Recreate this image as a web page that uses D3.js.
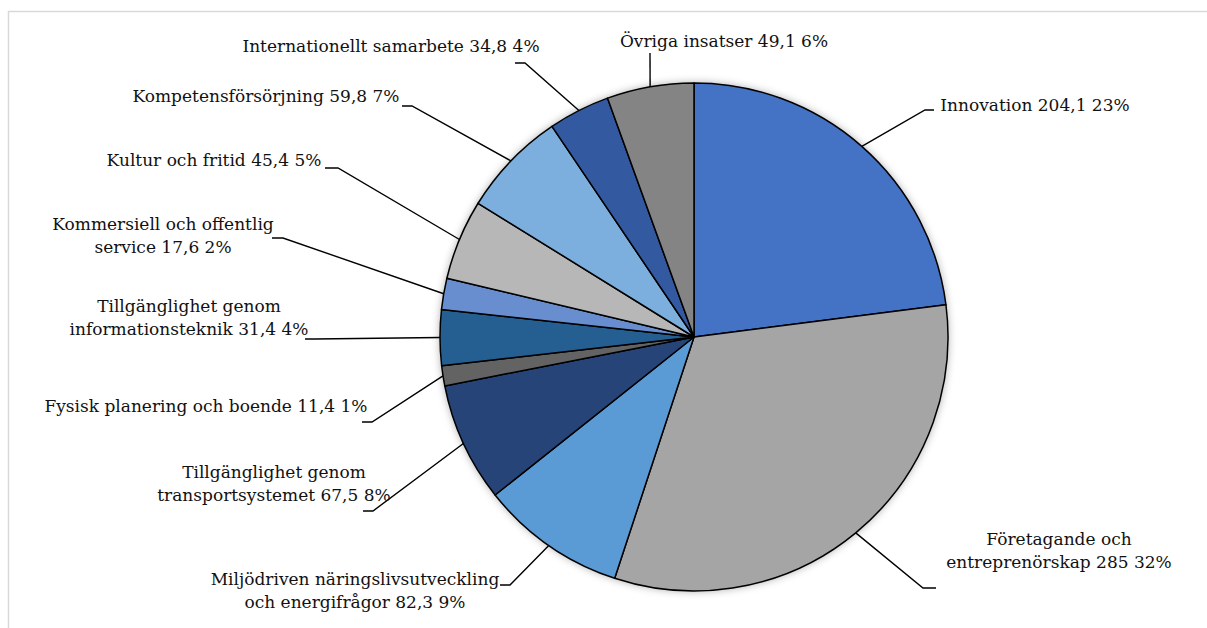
<!DOCTYPE html>
<html>
<head>
<meta charset="utf-8">
<script src="https://cdn.jsdelivr.net/npm/d3@7"></script>
<style>
  html, body { margin: 0; padding: 0; background: #ffffff; }
  svg { display: block; }
  text { font-family: "DejaVu Serif", "Liberation Serif", serif; fill: #111; }
</style>
</head>
<body>
<svg id="chart" width="1207" height="628"></svg>
<script>
// ---- data ----
const categories = [
  "Innovation",
  "Företagande och entreprenörskap",
  "Miljödriven näringslivsutveckling och energifrågor",
  "Tillgänglighet genom transportsystemet",
  "Fysisk planering och boende",
  "Tillgänglighet genom informationsteknik",
  "Kommersiell och offentlig service",
  "Kultur och fritid",
  "Kompetensförsörjning",
  "Internationellt samarbete",
  "Övriga insatser"
];
const values = [204.1, 285, 82.3, 67.5, 11.4, 31.4, 17.6, 45.4, 59.8, 34.8, 49.1];
const colors = ["#4472C4", "#A5A5A5", "#5B9BD5", "#264478", "#636363", "#255E91",
                "#698ED0", "#B7B7B7", "#7CAFDD", "#335AA1", "#848484"];
// number of words in the first label line (0 = single line)
const firstLineWords = [0, 2, 2, 2, 0, 2, 3, 0, 0, 0, 0];

// ---- label layout (Excel manual label placement) ----
const labelLayout = [
  { cx: 1035, y: 111, elbow: [925, 110], end: [934, 110] },
  { cx: 1059, y: 545, elbow: [923, 588], end: [936, 588] },
  { cx: 355,  y: 585, elbow: [510, 585], end: [500, 585] },
  { cx: 274,  y: 478, elbow: [373, 511], end: [363, 511] },
  { cx: 206,  y: 412, elbow: [372, 422], end: [362, 422] },
  { cx: 189,  y: 312, elbow: [315, 339], end: [305, 339] },
  { cx: 163,  y: 230, elbow: [283, 238], end: [272, 238] },
  { cx: 214,  y: 166, elbow: [338, 168], end: [325, 168] },
  { cx: 266,  y: 102, elbow: [412, 106], end: [402, 106] },
  { cx: 391,  y: 52,  elbow: [525, 63],  end: [515, 63] },
  { cx: 724,  y: 47,  elbow: [650, 53],  end: [650, 53] }
];

const svg = d3.select("#chart");
const W = 1207, H = 628;
const cx = 694, cy = 337, R = 254;
const fontSize = 17, lineH = 22.5;

// border
svg.append("rect")
  .attr("x", 8.5).attr("y", 11.5)
  .attr("width", W).attr("height", H)
  .attr("fill", "none").attr("stroke", "#d9d9d9").attr("stroke-width", 1.5);

const defs = svg.append("defs");
const f = defs.append("filter").attr("id", "shadow")
  .attr("x", "-10%").attr("y", "-10%").attr("width", "120%").attr("height", "120%");
f.append("feDropShadow").attr("dx", 0).attr("dy", 0)
  .attr("stdDeviation", 4).attr("flood-color", "#000").attr("flood-opacity", 0.35);

const total = d3.sum(values);
const data = categories.map((c, i) => ({ name: c, value: values[i], i }));
const pie = d3.pie().value(d => d.value).sort(null);
const arcs = pie(data);
const arc = d3.arc().innerRadius(0).outerRadius(R);

const g = svg.append("g").attr("transform", `translate(${cx},${cy})`);
g.append("circle").attr("r", R).attr("fill", "#fff").attr("filter", "url(#shadow)");
g.selectAll("path.slice").data(arcs).enter().append("path")
  .attr("class", "slice")
  .attr("d", arc)
  .attr("fill", d => colors[d.data.i])
  .attr("stroke", "#000").attr("stroke-width", 1.5).attr("stroke-linejoin", "round");

const fmtVal = v => String(v).replace(".", ",");
const pct = v => Math.round(v / total * 100) + "%";

// leader lines
arcs.forEach(a => {
  const L = labelLayout[a.data.i];
  const mid = (a.startAngle + a.endAngle) / 2;
  const sx = cx + R * Math.sin(mid), sy = cy - R * Math.cos(mid);
  svg.append("path")
    .attr("d", d3.line()([[sx, sy], L.elbow, L.end]))
    .attr("fill", "none").attr("stroke", "#000").attr("stroke-width", 1.4);
});

// labels
arcs.forEach(a => {
  const i = a.data.i, L = labelLayout[i];
  const full = `${a.data.name} ${fmtVal(a.data.value)} ${pct(a.data.value)}`;
  const words = full.split(" ");
  const lines = firstLineWords[i] > 0
    ? [words.slice(0, firstLineWords[i]).join(" "), words.slice(firstLineWords[i]).join(" ")]
    : [full];
  const t = svg.append("text").attr("text-anchor", "middle").attr("font-size", fontSize);
  lines.forEach((ln, k) => {
    t.append("tspan").attr("x", L.cx).attr("y", L.y + k * lineH).text(ln);
  });
});
</script>
</body>
</html>
